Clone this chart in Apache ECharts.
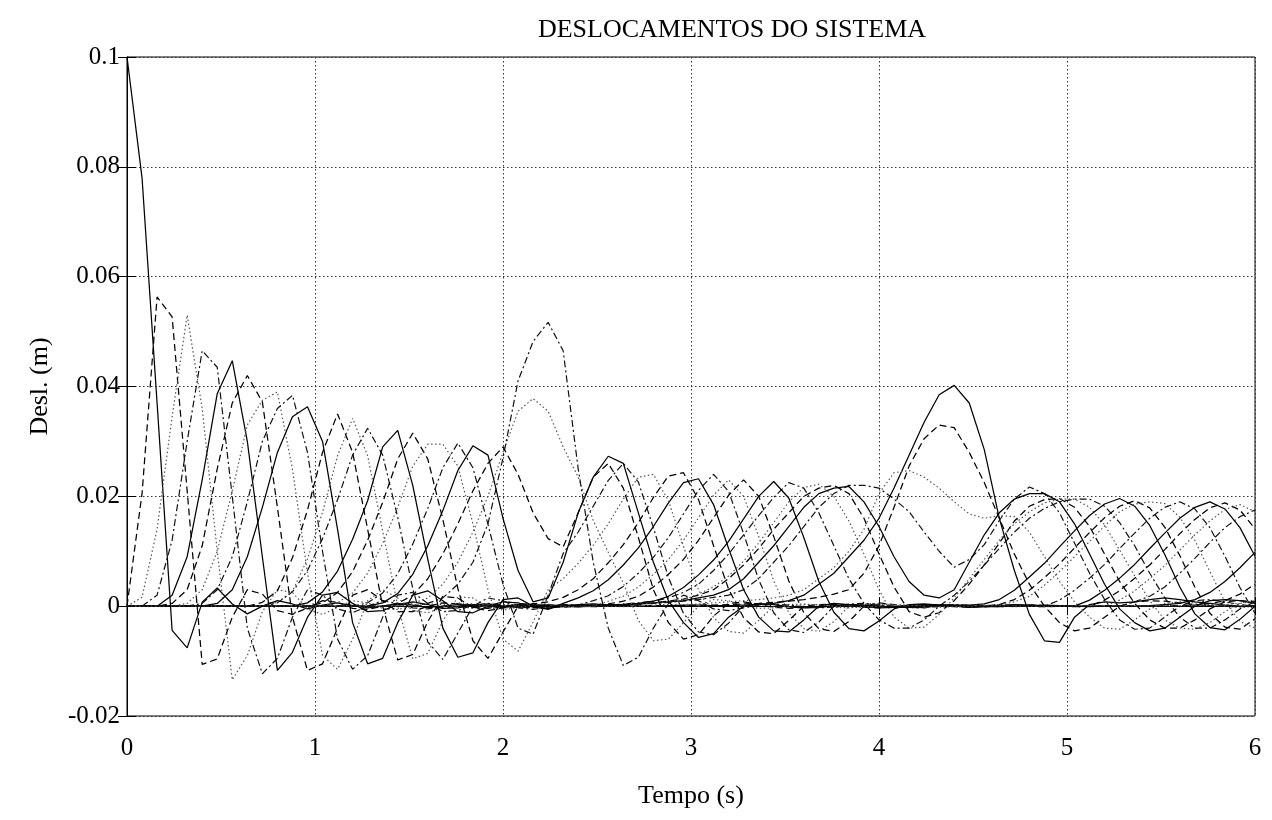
<!DOCTYPE html>
<html><head><meta charset="utf-8">
<script src="https://cdn.jsdelivr.net/npm/echarts@6/dist/echarts.min.js"></script>
<style>html,body{margin:0;padding:0;background:#fff}#c{width:1272px;height:820px}</style>
</head><body><div id="c"></div>
<script>
const time = [0,.08,.16,.24,.32,.40,.48,.56,.64,.72,.80,.88,.96,1.04,1.12,1.20,1.28,1.36,1.44,1.52,
1.60,1.68,1.76,1.84,1.92,2.00,2.08,2.16,2.24,2.32,2.40,2.48,2.56,2.64,2.72,2.80,2.88,2.96,3.04,3.12,
3.20,3.28,3.36,3.44,3.52,3.60,3.68,3.76,3.84,3.92,4.00,4.08,4.16,4.24,4.32,4.40,4.48,4.56,4.64,4.72,
4.80,4.88,4.96,5.04,5.12,5.20,5.28,5.36,5.44,5.52,5.60,5.68,5.76,5.84,5.92,6.00];
const xTicks = [0,1,2,3,4,5,6];
const yTicks = [-0.02,0,0.02,0.04,0.06,0.08,0.1];

const m1 = [.1,.078,.037,-.0044,-.0076,.0007,.0033,.0004,-.0014,0,
.001,.0004,-.0005,.0002,.0006,.0001,-.0003,0,.0004,.0002,
-.0002,0,.0003,.0002,0,-.0002,.0001,.0003,.0002,0,
-.0001,.0001,.0002,.0001,0,0,.0001,.0002,.0002,.0001,
.0001,.0002,.0003,.0005,.001,.002,.004,.006,.009,.012,
.016,.0215,.0275,.0335,.0385,.0402,.037,.0285,.016,.0065,
-.0015,-.0063,-.0066,-.002,.0003,.0008,.0006,.0008,.0012,.0015,
.0012,.0008,.0005,.0002,0,0];
const m2 = [0,.0205,.0563,.0527,.021,-.0106,-.0096,-.002,.003,.0022,
-.0008,-.0015,-.0003,.001,.0007,-.0004,-.0006,0,.0005,.0003,
-.0002,-.0003,0,.0003,.0002,0,-.0002,0,.0002,.0001,
0,-.0001,0,.0001,.0002,.0001,0,.0001,.0002,.0002,
.0003,.0004,.0005,.0007,.0009,.0012,.0016,.0022,.003,.006,
.011,.018,.0255,.0305,.033,.0325,.028,.0225,.016,.0095,
.004,0,-.003,-.0045,-.004,-.002,0,.0008,.001,.0009,
.0006,.0003,.0001,0,-.0001,0];
const m3 = [0,.0016,.014,.0345,.053,.036,.01,-.0134,-.009,-.001,
.003,.0025,-.0005,-.0015,-.0002,.001,.0006,-.0004,-.0006,0,
.0004,.0003,-.0002,-.0003,0,.0003,.0002,-.0001,-.0002,0,
.0002,.0002,0,-.0001,0,.0002,.0003,.0003,.0004,.0006,
.0008,.001,.0012,.0015,.002,.003,.005,.007,.010,.014,
.0205,.0243,.0247,.0235,.0215,.019,.0168,.016,.0165,.0163,
.0135,.009,.0045,.0008,-.002,-.004,-.0042,-.0025,-.0005,.0005,
.0008,.0006,.0003,0,-.0002,-.0001];
const m4 = [0,0,.002,.012,.03,.0465,.0435,.02,-.004,-.0123,
-.0095,-.002,.003,.002,-.0005,-.0012,0,.001,.0005,-.0003,
-.0005,0,.0004,.0003,-.0002,-.0003,0,.0002,.0002,0,
-.0001,0,.0002,.0003,.0004,.0005,.0007,.0009,.0012,.0016,
.002,.003,.005,.008,.011,.0145,.018,.0205,.022,.022,
.0215,.0195,.0172,.0135,.010,.0071,.0085,.0112,.0156,.0195,
.0217,.0205,.017,.0115,.006,.0012,-.0025,-.0042,-.004,-.002,
0,.001,.0012,.0008,.0003,0];
const m5 = [0,0,0,.002,.009,.023,.0387,.0447,.030,.009,
-.0117,-.0084,-.002,.002,.0025,.0005,-.001,-.0008,.0003,.0008,
.0003,-.0004,-.0003,.0002,.0004,0,-.0002,0,.0002,.0001,
0,.0001,.0002,.0003,.0004,.0006,.0008,.001,.0015,.002,
.003,.005,.008,.011,.0145,.018,.0205,.0215,.0218,.019,
.0145,.009,.0045,.002,.0015,.003,.008,.013,.017,.0195,
.0205,.0205,.019,.015,.0095,.004,-.0005,-.003,-.0045,-.004,
-.002,0,.001,.0012,.001,.0005];
const m6 = [0,0,0,.0005,.003,.011,.025,.037,.042,.0372,
.018,-.002,-.0117,-.0105,-.004,.002,.003,.001,-.001,-.001,
0,.0006,.0004,-.0002,-.0004,0,.0003,.0001,-.0002,-.0001,
.0001,.0002,.0002,.0003,.0004,.0006,.0009,.0013,.002,.003,
.005,.0075,.0105,.014,.017,.02,.0215,.022,.0205,.016,
.0095,.0035,-.001,-.002,-.0012,.001,.004,.0075,.0115,.0155,
.0182,.0194,.0196,.018,.0145,.0095,.0045,.0005,-.0025,-.004,
-.004,-.0025,-.0005,.0008,.001,.0008];
const m7 = [0,0,0,0,.0005,.003,.01,.021,.033,.0375,
.039,.025,.006,-.009,-.0115,-.006,.001,.003,.0015,-.0008,
-.0012,-.0002,.0006,.0004,-.0002,-.0004,0,.0003,.0002,-.0001,
-.0002,0,.0002,.0003,.0004,.0006,.0008,.0012,.0022,.0035,
.0055,.0082,.0115,.0152,.019,.0216,.0222,.020,.0155,.0095,
.003,-.002,-.004,-.0038,-.0015,.0015,.005,.0085,.012,.015,
.0172,.0188,.0195,.0195,.018,.0148,.0102,.0055,.001,-.0025,
-.004,-.0042,-.003,-.001,.0005,.001];
const m8 = [0,0,0,0,0,.0005,.003,.009,.019,.03,
.036,.0384,.028,.01,-.006,-.0115,-.009,-.002,.002,.0025,
.0005,-.001,-.0008,.0002,.0005,.0002,-.0002,-.0003,0,.0002,
.0002,.0001,.0002,.0004,.0006,.0009,.0015,.0025,.004,.0065,
.0095,.013,.0165,.0198,.0225,.0215,.017,.011,.005,.0005,
-.0025,-.004,-.004,-.0025,0,.002,.0045,.0075,.0105,.0135,
.016,.0178,.019,.0195,.0195,.0182,.0152,.011,.006,.0015,
-.002,-.004,-.004,-.0025,-.0005,.0008];
const m9 = [0,0,0,0,0,0,.0005,.003,.009,.018,
.028,.0345,.0363,.03,.014,-.003,-.0105,-.0095,-.003,.002,
.0028,.001,-.001,-.0012,0,.0008,.0006,-.0002,-.0004,0,
.0003,.0004,.0002,.0003,.0005,.0009,.0018,.0034,.0057,.0084,
.0118,.0159,.020,.0227,.0197,.0125,.0045,-.0011,-.0041,-.0045,
-.0027,-.0005,.0003,.0004,.0002,.0001,.0002,.0004,.0012,.0029,
.0053,.0078,.0108,.0137,.0165,.0186,.0196,.0182,.0147,.0094,
.0035,-.0014,-.0039,-.0043,-.0024,0];
const m10 = [0,0,0,0,0,0,0,0,0,.0007,
.0028,.0088,.0175,.028,.035,.028,.014,0,-.0098,-.0088,
-.0028,.0018,.0015,-.0003,-.0008,-.0003,.0004,.0004,0,-.0002,
0,.0002,.0004,.0009,.0018,.0035,.0058,.0085,.012,.0161,
.0202,.023,.020,.0127,.0046,-.0012,-.0041,-.0046,-.0028,0,
.0006,.0003,-.0002,-.0003,0,.0002,.0001,0,.0003,.0012,
.0029,.0052,.0077,.0106,.0134,.0161,.0182,.0192,.0179,.0144,
.0092,.0035,-.0013,-.0038,-.0042,-.0023];
const m11 = [0,0,0,0,0,0,0,0,0,0,
.0007,.0027,.0086,.0171,.0274,.0342,.0274,.0137,0,-.0096,
-.0086,-.0027,.0017,.0015,-.0003,-.0007,-.0002,.0003,.0004,0,
-.0002,0,.0009,.0018,.0035,.0058,.0085,.012,.0161,.0202,
.023,.020,.0127,.0046,-.0012,-.0041,-.0046,-.0028,0,.0004,
.0005,.0002,-.0002,-.0003,0,.0002,.0002,0,.0002,.0008,
.0018,.0038,.0063,.009,.0118,.0146,.0172,.0186,.019,.0187,
.0162,.012,.0063,.0008,-.0028,-.004];
const m12 = [0,0,0,0,0,0,0,0,0,0,
.0006,.0026,.0065,.0123,.0194,.0275,.0324,.0275,.0162,.0032,
-.0065,-.0097,-.0049,0,.0015,.001,-.0003,-.0006,-.0002,.0003,
.0002,.001,.0019,.0036,.006,.0089,.0125,.0168,.0211,.024,
.0209,.0132,.0048,-.0012,-.0043,-.0048,-.0029,0,.0004,.0005,
.0003,-.0001,-.0003,-.0002,.0001,.0003,.0002,0,-.0001,0,
.0002,0,.0011,.0029,.0051,.0076,.0105,.0133,.016,.018,
.019,.0177,.0143,.0091,.0034,-.0013];
const m13 = [0,0,0,0,0,0,0,0,0,0,
0,0,.0006,.0026,.0064,.0122,.0192,.029,.032,.022,
.0085,-.004,-.0093,-.0085,-.003,.0012,.0015,0,-.0006,.0005,
.0015,.0028,.0048,.0075,.0106,.0145,.0188,.0225,.0232,.0185,
.0105,.003,-.002,-.0045,-.0047,-.0025,0,.0005,.0003,-.0001,
-.0003,-.0002,.0001,.0003,.0002,0,-.0002,-.0001,.0001,.0003,
.0002,0,0,0,.0011,.0029,.0051,.0076,.0105,.0133,
.016,.018,.019,.0177,.0143,.0091];
const m14 = [0,0,0,0,0,0,0,0,0,0,
0,0,0,.0006,.0025,.0063,.012,.0189,.0268,.0315,
.0268,.0158,.0032,-.0063,-.0095,-.0047,0,.0004,.0008,.0016,
.003,.005,.0079,.0112,.0152,.0198,.0237,.0243,.0194,.011,
.0031,-.0021,-.0047,-.005,-.0026,0,.0003,.0004,.0002,-.0002,
-.0003,-.0001,.0002,.0003,.0001,-.0001,-.0002,0,.0002,.0002,
0,-.0001,0,.0001,0,.0011,.0028,.0051,.0075,.0103,
.0132,.0158,.0179,.0188,.0175,.0141];
const m15 = [0,0,0,0,0,0,0,0,0,0,
0,0,0,0,.0006,.0024,.006,.0114,.018,.0255,
.0295,.0295,.0255,.015,.003,-.006,-.0082,-.0029,.003,.005,
.0078,.0111,.015,.0195,.0235,.024,.0192,.0109,.003,-.0021,
-.0046,-.0049,-.0026,0,.0003,.0004,.0002,-.0002,-.0003,-.0001,
.0002,.0003,.0001,-.0001,-.0002,0,.0002,.0002,0,-.0001,
0,.0001,.0001,0,0,0,.0011,.0028,.005,.0074,
.0102,.013,.0155,.0176,.0185,.0172];
const m16 = [0,0,0,0,0,0,0,0,0,0,
0,0,0,0,0,0,.0006,.0024,.0059,.0113,
.0178,.0252,.0297,.0252,.0149,.004,-.004,-.0051,.002,.0096,
.0135,.0182,.0229,.026,.0226,.0143,.0052,-.0013,-.0047,-.0052,
-.0031,0,.0004,.0003,-.0001,-.0003,-.0002,.0001,.0003,.0002,
0,-.0002,-.0001,.0001,.0002,.0001,0,-.0001,0,.0001,
.0002,.0001,0,0,0,0,0,.0008,.0018,.0035,
.006,.0087,.0116,.0143,.0163,.0175];
const m17 = [0,0,0,0,0,0,0,0,0,0,
0,0,0,0,0,0,0,.0006,.0023,.0058,
.011,.0174,.0247,.0292,.0275,.016,.0065,.0008,.0015,.008,
.017,.0235,.0273,.026,.017,.008,.001,-.003,-.0057,-.005,
-.002,0,.0004,.0003,-.0001,-.0003,-.0002,.0001,.0003,.0002,
0,-.0002,-.0002,0,.0002,.0002,0,-.0001,-.0001,0,
.0001,.0002,.0001,0,-.0001,0,0,0,.0001,.0003,
.0005,.0012,.0025,.0045,.007,.0098];
const m18 = [0,0,0,0,0,0,0,0,0,0,
0,0,0,0,0,0,0,0,.0005,.002,
.005,.0095,.015,.021,.026,.029,.024,.017,.0123,.0108,
.017,.0235,.026,.0215,.0125,.003,-.003,-.006,-.0052,-.0018,
.0005,.0008,.0003,-.0002,-.0004,-.0002,.0001,.0003,.0002,0,
-.0002,-.0002,0,.0002,.0002,.0001,-.0001,-.0001,0,.0001,
.0002,.0001,0,-.0001,0,.0001,.0001,0,0,0,
.0001,.0002,.0005,.001,.0022,.004];
const m19 = [0,0,0,0,0,0,0,0,0,0,
0,0,0,0,0,0,0,0,0,.0005,
.0015,.004,.008,.0135,.02,.028,.0355,.0378,.0355,.029,
.0235,.0156,.0098,.0042,-.0026,-.0063,-.006,-.003,0,.0012,
.001,0,-.0004,-.0003,0,.0003,.0003,0,-.0002,-.0002,
0,.0002,.0002,0,-.0001,-.0001,0,.0001,.0001,0,
0,-.0001,0,.0001,.0001,0,0,0,0,.0001,
.0001,.0001,.0002,.0003,.0005,.0012];
const m20 = [0,0,0,0,0,0,0,0,0,0,
0,0,0,0,0,0,0,0,0,0,
.0005,.0015,.004,.008,.015,.027,.041,.0482,.0517,.0465,
.025,.008,-.004,-.0108,-.0093,-.004,.0005,.002,.001,-.0005,
-.0008,-.0003,.0002,.0004,.0002,-.0001,-.0003,-.0002,.0001,.0002,
.0001,0,-.0001,-.0001,0,.0001,.0001,0,0,0,
0,0,0,0,0,0,0,0,0,0,
0,0,0,0,0,.0001];

const masses = [m1,m2,m3,m4,m5,m6,m7,m8,m9,m10,m11,m12,m13,m14,m15,m16,m17,m18,m19,m20];
const styles = [
  {type:'solid', color:'#000', width:1.25},
  {type:[7,4], color:'#000', width:1.25},
  {type:[1.5,2.5], color:'#555', width:1.2},
  {type:[7,3,2,3], color:'#111', width:1.2}
];

const chart = echarts.init(document.getElementById('c'), null, {renderer:'canvas'});
const FONT = '"Liberation Serif","Times New Roman",serif';
const series = masses.map((arr, k) => ({
  type:'line', symbol:'none', animation:false, silent:true,
  data: arr.map((v,i)=>[time[i], v]),
  lineStyle: styles[k%4], z: 3
}));
const yFmt = v => String(+(+v).toFixed(2));
chart.setOption({
  backgroundColor:'#fff',
  animation:false,
  title:{text:'DESLOCAMENTOS DO SISTEMA', left:727, top:12, textAlign:'center',
    textStyle:{fontFamily:FONT, fontSize:26, fontWeight:'normal', color:'#000'}},
  grid:{left:127, right:17, top:57, bottom:104, containLabel:false, show:true, borderColor:'#000', borderWidth:1},
  xAxis:[{type:'value', min:xTicks[0], max:xTicks[xTicks.length-1], interval:1,
    name:'Tempo (s)', nameLocation:'middle', nameGap:67,
    nameTextStyle:{fontFamily:FONT, fontSize:26, color:'#000'},
    axisLine:{lineStyle:{color:'#000'}}, axisTick:{inside:true, length:9, lineStyle:{color:'#000'}},
    axisLabel:{fontFamily:FONT, fontSize:25, color:'#000', margin:20},
    splitLine:{show:true, lineStyle:{type:[1.5,2.5], color:'#333', width:1}}},
   {type:'value', position:'top', min:0, max:6, interval:1,
    axisLine:{lineStyle:{color:'#000'}}, axisTick:{inside:true, length:9, lineStyle:{color:'#000'}},
    axisLabel:{show:false}, splitLine:{show:false}}],
  yAxis:[{type:'value', min:yTicks[0], max:yTicks[yTicks.length-1], interval:0.02,
    name:'Desl. (m)', nameLocation:'middle', nameGap:74, nameRotate:90,
    nameTextStyle:{fontFamily:FONT, fontSize:26, color:'#000'},
    axisLine:{lineStyle:{color:'#000'}}, axisTick:{inside:true, length:9, lineStyle:{color:'#000'}},
    axisLabel:{fontFamily:FONT, fontSize:25, color:'#000', margin:7, formatter:yFmt},
    splitLine:{show:true, lineStyle:{type:[1.5,2.5], color:'#333', width:1}}},
   {type:'value', position:'right', min:-0.02, max:0.1, interval:0.02,
    axisLine:{show:true, lineStyle:{color:'#000'}}, axisTick:{show:true, inside:true, length:9, lineStyle:{color:'#000'}},
    axisLabel:{show:false}, splitLine:{show:false}}],
  series: series
});
</script></body></html>
